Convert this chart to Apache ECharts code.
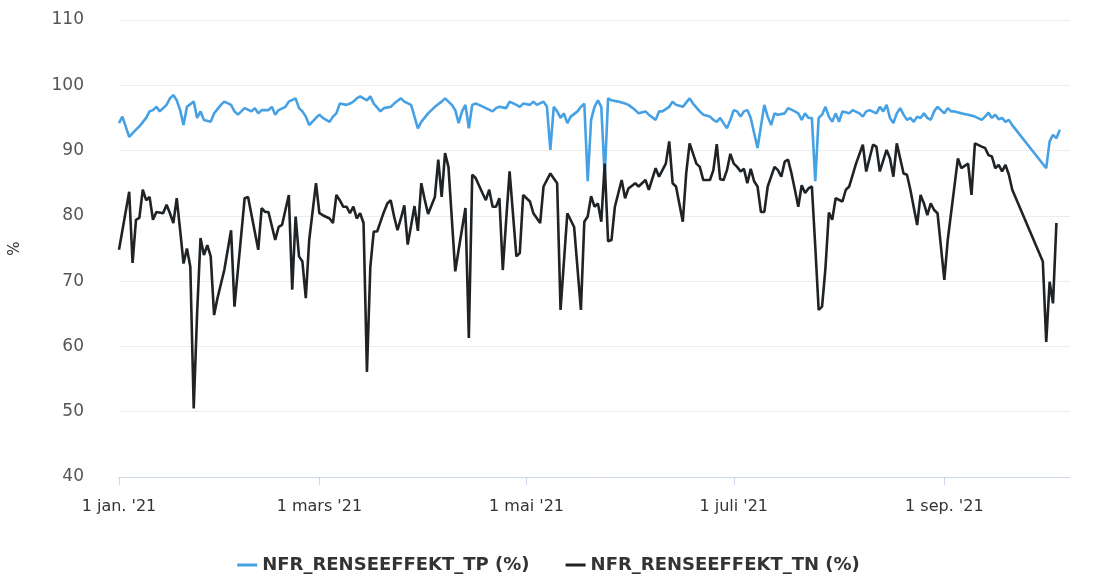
<!DOCTYPE html>
<html>
<head>
<meta charset="utf-8">
<script src="https://cdn.jsdelivr.net/npm/echarts@6/dist/echarts.min.js"></script>
<style>
html,body{margin:0;padding:0;background:#fff;}
#chart{width:1097px;height:578px;}
</style>
</head>
<body>
<div id="chart"></div>
<script>
// x values are day offsets from 1 Jan 2021
const tickDays = [0, 59, 120, 181, 243];
const tickLabels = ["1 jan. '21", "1 mars '21", "1 mai '21", "1 juli '21", "1 sep. '21"];
const seriesNames = ["NFR_RENSEEFFEKT_TP (%)", "NFR_RENSEEFFEKT_TN (%)"];

const tpPoints = [[0,94.2],[1,95.2],[3,92.1],[5,93.2],[6,93.7],[8,95],[9,96],[10,96.2],[11,96.7],[12,96],[14,97],[15,98],[16,98.5],[17,97.7],[18,96.2],[19,93.9],[20,96.7],[22,97.5],[23,95],[24,96],[25,94.7],[27,94.4],[28,95.7],[30,97],[31,97.5],[33,97],[34,96],[35,95.5],[36,96],[37,96.5],[39,96],[40,96.5],[41,95.7],[42,96.2],[44,96.2],[45,96.7],[46,95.5],[47,96.2],[49,96.7],[50,97.5],[52,98],[53,96.5],[54,96],[55,95.2],[56,93.9],[58,95],[59,95.5],[60,95],[62,94.4],[63,95.2],[64,95.7],[65,97.2],[67,97],[68,97.2],[69,97.5],[70,98],[71,98.3],[73,97.7],[74,98.3],[75,97.2],[77,96],[78,96.5],[80,96.7],[81,97.2],[83,98],[84,97.5],[86,97],[87,95.2],[88,93.4],[89,94.4],[91,95.7],[92,96.2],[93,96.7],[95,97.5],[96,98],[98,97],[99,96.2],[100,94.2],[101,96],[102,97],[103,93.4],[104,97],[105,97.2],[106,97],[108,96.5],[110,96],[111,96.5],[112,96.7],[114,96.5],[115,97.5],[117,97],[118,96.7],[119,97.2],[121,97],[122,97.5],[123,97],[125,97.5],[126,96.7],[127,90.1],[128,96.7],[129,96],[130,95],[131,95.7],[132,94.2],[133,95.2],[135,96],[136,96.7],[137,97.2],[138,85.3],[139,94.7],[140,96.7],[141,97.7],[142,96.7],[143,86],[144,98],[145,97.7],[147,97.5],[149,97.2],[150,97],[152,96.2],[153,95.7],[155,96],[156,95.5],[158,94.7],[159,96],[160,96],[162,96.7],[163,97.5],[164,97],[166,96.7],[168,98],[169,97.2],[171,96],[172,95.5],[174,95.2],[175,94.7],[176,94.4],[177,95],[179,93.4],[180,94.7],[181,96.2],[182,96],[183,95.2],[184,96],[185,96.2],[186,95],[188,90.4],[189,93.7],[190,97],[191,95.2],[192,93.9],[193,95.7],[194,95.5],[196,95.7],[197,96.5],[199,96],[200,95.7],[201,94.7],[202,95.7],[203,95],[204,95],[205,85.3],[206,95],[207,95.5],[208,96.7],[209,95.2],[210,94.4],[211,95.7],[212,94.4],[213,96],[215,95.7],[216,96.2],[218,95.7],[219,95.2],[220,96],[221,96.2],[223,95.7],[224,96.7],[225,96],[226,97],[227,95],[228,94.2],[229,95.7],[230,96.5],[231,95.5],[232,94.7],[233,95],[234,94.4],[235,95.2],[236,95],[237,95.7],[238,95],[239,94.7],[240,96],[241,96.7],[242,96.2],[243,95.7],[244,96.5],[245,96],[246,96],[248,95.7],[250,95.5],[252,95.2],[254,94.7],[255,95.2],[256,95.8],[257,95],[258,95.5],[259,94.8],[260,95],[261,94.4],[262,94.7],[263,93.9],[273,87.3],[274,91.4],[275,92.4],[276,91.9],[277,93.2]];

const tnPoints = [[0,74.8],[3,83.7],[4,72.8],[5,79.4],[6,79.7],[7,84],[8,82.4],[9,82.9],[10,79.4],[11,80.6],[13,80.4],[14,81.7],[15,80.4],[16,78.9],[17,82.7],[18,77.8],[19,72.7],[20,75],[21,72.2],[22,50.5],[23,65.1],[24,76.6],[25,74],[26,75.5],[27,73.8],[28,64.8],[29,67.4],[31,71.7],[33,77.8],[34,66.1],[37,82.7],[38,82.9],[41,74.8],[42,81.2],[43,80.6],[44,80.6],[46,76.3],[47,78.3],[48,78.6],[50,83.2],[51,68.7],[52,79.9],[53,73.8],[54,73],[55,67.4],[56,76.3],[58,85],[59,80.4],[60,80.1],[62,79.6],[63,78.9],[64,83.2],[65,82.4],[66,81.4],[67,81.4],[68,80.4],[69,81.4],[70,79.6],[71,80.4],[72,78.9],[73,56.1],[74,72.2],[75,77.6],[76,77.6],[78,80.6],[79,81.9],[80,82.4],[81,79.9],[82,77.8],[83,79.6],[84,81.6],[85,75.6],[86,78.5],[87,81.5],[88,77.7],[89,85],[90,82.5],[91,80.3],[93,82.9],[94,88.6],[95,82.9],[96,89.6],[97,87.5],[99,71.5],[100,74.8],[102,81.2],[103,61.3],[104,86.3],[105,85.8],[107,83.5],[108,82.4],[109,84],[110,81.4],[111,81.4],[112,82.7],[113,71.7],[114,79.4],[115,86.8],[117,73.8],[118,74.3],[119,83.2],[121,82.2],[122,80.4],[124,78.9],[125,84.5],[127,86.5],[129,85],[130,65.6],[132,80.4],[134,78.3],[136,65.6],[137,79.1],[138,79.9],[139,83],[140,81.4],[141,81.9],[142,79.1],[143,88],[144,76.1],[145,76.3],[146,81.4],[148,85.5],[149,82.7],[150,84.2],[152,85],[153,84.5],[155,85.5],[156,84],[158,87.3],[159,86],[161,88],[162,91.4],[163,85],[164,84.5],[166,79.1],[167,86.5],[168,91.1],[170,88],[171,87.5],[172,85.5],[174,85.5],[175,87],[176,91],[177,85.6],[178,85.5],[179,87],[180,89.5],[181,88],[182,87.5],[183,86.8],[184,87.2],[185,85],[186,87.2],[187,85.3],[188,84.5],[189,80.6],[190,80.6],[191,84.5],[193,87.5],[194,87],[195,86],[196,88.3],[197,88.6],[198,86.5],[199,84],[200,81.4],[201,84.7],[202,83.5],[203,84.2],[204,84.5],[205,75.3],[206,65.6],[207,66.1],[208,72],[209,80.5],[210,79.4],[211,82.7],[213,82.2],[214,84],[215,84.5],[217,88],[219,90.9],[220,86.8],[222,90.9],[223,90.6],[224,86.8],[226,90.1],[227,88.8],[228,86],[229,91.1],[231,86.5],[232,86.3],[233,84],[235,78.6],[236,83.2],[237,81.9],[238,80.1],[239,81.9],[240,80.9],[241,80.4],[243,70.2],[244,76.3],[247,88.8],[248,87.3],[250,88],[251,83.2],[252,91.1],[254,90.6],[255,90.4],[256,89.3],[257,89.1],[258,87.3],[259,87.8],[260,86.8],[261,87.8],[262,86.3],[263,84],[272,73],[273,60.7],[274,69.9],[275,66.6],[276,78.9]];

const chart = echarts.init(document.getElementById('chart'), null, {renderer: 'canvas'});
const FONT = 'DejaVu Sans';
chart.setOption({
  animation: false,
  backgroundColor: '#ffffff',
  grid: {left: 117, right: 27, top: 20, bottom: 101, containLabel: false},
  xAxis: {
    type: 'value',
    min: 0,
    max: 280,
    axisLine: {show: true, lineStyle: {color: '#ccd6eb', width: 1}},
    axisTick: {show: true, customValues: tickDays, length: 8, lineStyle: {color: '#ccd6eb'}},
    axisLabel: {
      customValues: tickDays,
      color: '#333',
      fontFamily: FONT,
      fontSize: 16,
      margin: 22,
      formatter: function (v) {
        const i = tickDays.indexOf(Math.round(v));
        return i >= 0 ? tickLabels[i] : '';
      }
    },
    splitLine: {show: false}
  },
  yAxis: {
    type: 'value',
    min: 40,
    max: 110,
    interval: 10,
    name: '%',
    nameLocation: 'middle',
    nameGap: 96,
    nameRotate: 90,
    nameTextStyle: {color: '#333', fontFamily: FONT, fontSize: 15},
    axisLine: {show: false},
    axisTick: {show: false},
    axisLabel: {color: '#555', fontFamily: FONT, fontSize: 17, margin: 35},
    splitLine: {show: true, lineStyle: {color: '#ececec', width: 1}}
  },
  legend: {
    bottom: -1,
    left: 'center',
    icon: 'rect',
    itemWidth: 20,
    itemHeight: 3,
    itemGap: 36,
    textStyle: {color: '#333', fontFamily: FONT, fontSize: 18, fontWeight: 'bold'},
    data: seriesNames
  },
  series: [
    {
      name: seriesNames[0],
      type: 'line',
      data: tpPoints,
      showSymbol: false,
      symbol: 'none',
      lineStyle: {color: '#45a1e3', width: 2.6},
      itemStyle: {color: '#45a1e3'}
    },
    {
      name: seriesNames[1],
      type: 'line',
      data: tnPoints,
      showSymbol: false,
      symbol: 'none',
      lineStyle: {color: '#1f2326', width: 2.6},
      itemStyle: {color: '#1f2326'}
    }
  ]
});
</script>
</body>
</html>
